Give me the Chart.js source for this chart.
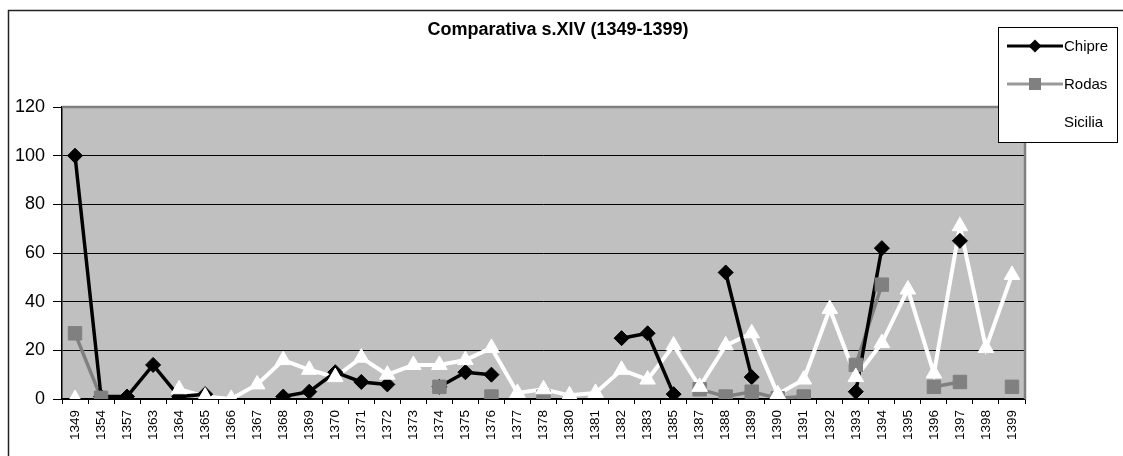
<!DOCTYPE html>
<html>
<head>
<meta charset="utf-8">
<script src="https://cdn.jsdelivr.net/npm/chart.js@4.4.1/dist/chart.umd.min.js"></script>
<style>
  html, body { margin: 0; padding: 0; background: #fff; }
  #wrap { width: 1123px; height: 456px; position: relative; }
</style>
</head>
<body>
<div id="wrap"><canvas id="c" width="1123" height="456"></canvas></div>
<script>
const titleText = 'Comparativa s.XIV (1349-1399)';
const categories = ['1349','1354','1357','1363','1364','1365','1366','1367','1368','1369','1370','1371','1372','1373','1374','1375','1376','1377','1378','1380','1381','1382','1383','1385','1387','1388','1389','1390','1391','1392','1393','1394','1395','1396','1397','1398','1399'];
const chipre  = [100, 1, 1, 14, 1, 2, null, null, 1, 3, 11, 7, 6, null, 5, 11, 10, null, null, null, null, 25, 27, 2, null, 52, 9, null, null, null, 3, 62, null, null, 65, null, null];
const rodas   = [27, 0.5, null, null, null, null, null, null, null, null, null, null, null, null, 5, null, 1, null, 1, null, null, null, null, null, 4, 1, 3, 0.3, 1, null, 14, 47, null, 5, 7, null, 5];
const sicilia = [0, null, null, null, 4, 1, 0, 6, 16, 12, 9, 17, 10, 14, 14, 16, 21, 2.5, 4, 1.5, 2.5, 12, 8, 22, 5, 22, 27, 2, 8, 37, 9, 23, 45, 10.5, 71, 21, 51];
const yTicks = { min: 0, max: 120, step: 20 };
const seriesNames = ['Chipre', 'Rodas', 'Sicilia'];

const FONT = "'Liberation Sans', Arial, sans-serif";
const PLOT = { left: 62, right: 1025, top: 107, bottom: 399 };

const frame = {
  id: 'frame',
  beforeDraw(chart) {
    const ctx = chart.ctx, a = chart.chartArea;
    ctx.save();
    ctx.fillStyle = '#fff';
    ctx.fillRect(0, 0, chart.width, chart.height);
    ctx.strokeStyle = '#222';
    ctx.lineWidth = 1.5;
    ctx.beginPath();
    ctx.moveTo(8.5, chart.height);
    ctx.lineTo(8.5, 10.5);
    ctx.lineTo(chart.width, 10.5);
    ctx.stroke();
    ctx.fillStyle = '#c0c0c0';
    ctx.fillRect(a.left, a.top, a.right - a.left, a.bottom - a.top);
    ctx.fillStyle = '#000';
    ctx.font = 'bold 18px ' + FONT;
    ctx.textAlign = 'center';
    ctx.textBaseline = 'middle';
    ctx.fillText(titleText, 558, 30);
    ctx.restore();
  },
  beforeDatasetsDraw(chart) {
    const ctx = chart.ctx, a = chart.chartArea;
    ctx.save();
    ctx.strokeStyle = '#808080';
    ctx.lineWidth = 2.5;
    ctx.beginPath();
    ctx.moveTo(a.left, a.top);
    ctx.lineTo(a.right, a.top);
    ctx.lineTo(a.right, a.bottom);
    ctx.stroke();
    ctx.restore();
  },
  afterDraw(chart) {
    const ctx = chart.ctx;
    ctx.save();
    ctx.fillStyle = '#fff';
    ctx.fillRect(998, 27, 119, 115);
    ctx.strokeStyle = '#000';
    ctx.lineWidth = 1;
    ctx.strokeRect(998.5, 27.5, 119, 115);
    const rows = [46, 84, 122];
    const colors = ['#000000', '#999999', '#ffffff'];
    const mcolors = ['#000000', '#808080', '#ffffff'];
    rows.forEach((y, i) => {
      ctx.strokeStyle = colors[i];
      ctx.lineWidth = 3;
      ctx.beginPath();
      ctx.moveTo(1007, y);
      ctx.lineTo(1063, y);
      ctx.stroke();
      ctx.fillStyle = mcolors[i];
      const cx = 1035;
      ctx.beginPath();
      if (i === 0) {
        ctx.moveTo(cx, y - 6.5); ctx.lineTo(cx + 6.5, y); ctx.lineTo(cx, y + 6.5); ctx.lineTo(cx - 6.5, y);
        ctx.closePath();
      } else if (i === 1) {
        ctx.rect(cx - 6, y - 6, 12, 12);
      } else {
        ctx.moveTo(cx, y - 7); ctx.lineTo(cx + 7, y + 5); ctx.lineTo(cx - 7, y + 5); ctx.closePath();
      }
      ctx.fill();
      ctx.fillStyle = '#000';
      ctx.font = '15px ' + FONT;
      ctx.textAlign = 'left';
      ctx.textBaseline = 'middle';
      ctx.fillText(seriesNames[i], 1064, y + 1);
    });
    ctx.restore();
  }
};

const lineDs = (data, color, width, order) => ({
  data, borderColor: color, borderWidth: width, pointRadius: 0, fill: false,
  spanGaps: false, tension: 0, order
});
const markDs = (data, style, radius, color, order) => ({
  data, showLine: false, pointStyle: style, pointRadius: radius,
  pointBackgroundColor: color, pointBorderColor: color, pointBorderWidth: 1,
  borderColor: color, backgroundColor: color, order
});

new Chart(document.getElementById('c'), {
  type: 'line',
  data: {
    labels: categories,
    datasets: [
      lineDs(sicilia, '#ffffff', 4, 6),
      lineDs(rodas, '#808080', 3.5, 5),
      lineDs(chipre, '#000000', 3.5, 4),
      markDs(chipre, 'rectRot', 7.5, '#000000', 3),
      markDs(rodas, 'rect', 9.5, '#808080', 2),
      markDs(sicilia, 'triangle', 9, '#ffffff', 1)
    ]
  },
  options: {
    responsive: false,
    animation: false,
    events: [],
    layout: { padding: { left: 0, top: PLOT.top, right: 1123 - PLOT.right, bottom: 0 } },
    plugins: { legend: { display: false }, title: { display: false }, tooltip: { enabled: false } },
    scales: {
      x: {
        type: 'category',
        offset: true,
        grid: { offset: true, drawOnChartArea: false, drawTicks: true, tickLength: 5, color: '#000', lineWidth: 1 },
        border: { color: '#000', width: 1.5 },
        ticks: {
          autoSkip: false, minRotation: 90, maxRotation: 90, padding: 6,
          color: '#000', font: { family: FONT, size: 13.5 }
        },
        afterFit(s) { s.height = 456 - PLOT.bottom; }
      },
      y: {
        min: yTicks.min, max: yTicks.max,
        grid: { color: '#000', lineWidth: 1, drawTicks: true, tickLength: 9 },
        border: { color: '#000', width: 1.5 },
        ticks: { stepSize: yTicks.step, padding: 8, color: '#000', font: { family: FONT, size: 18 } },
        afterFit(s) { s.width = PLOT.left; }
      }
    }
  },
  plugins: [frame]
});
</script>
</body>
</html>
